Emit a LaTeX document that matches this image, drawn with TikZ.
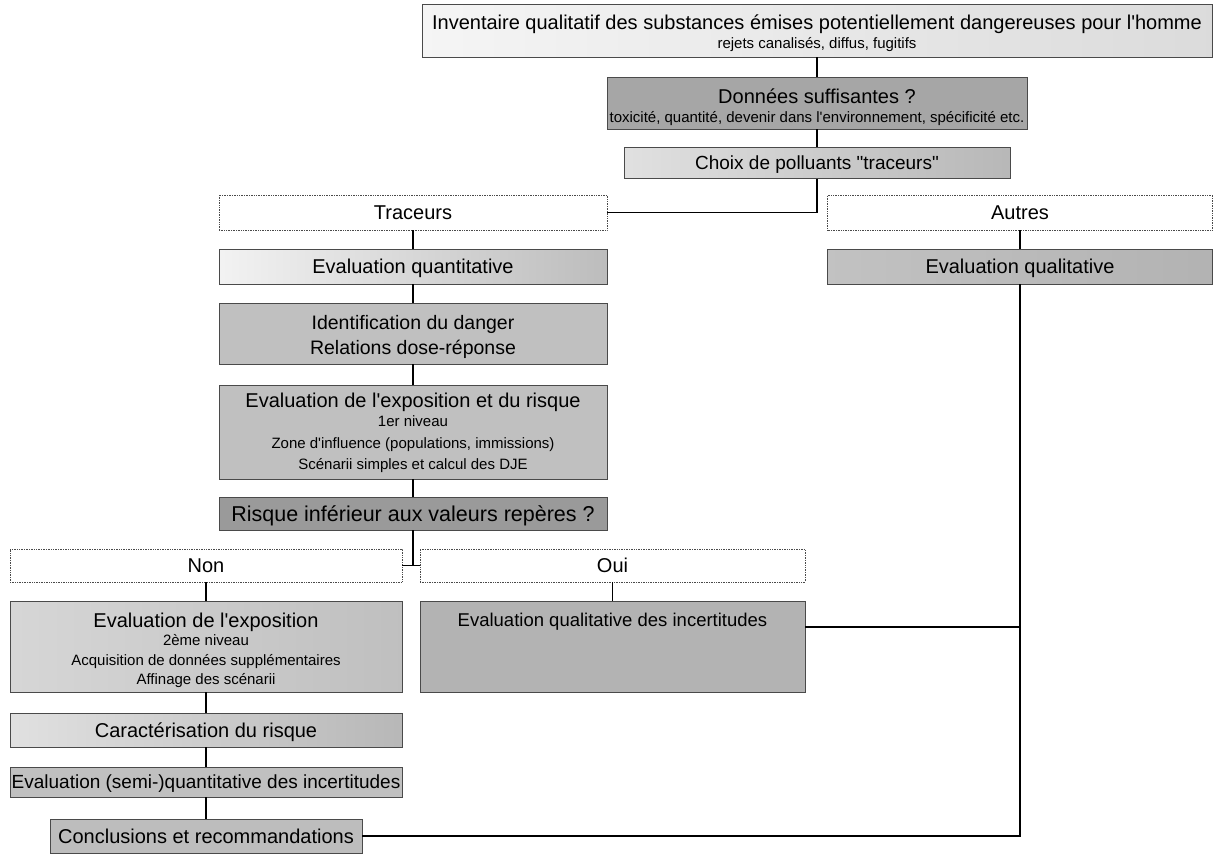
\documentclass[tikz,border=0pt]{standalone}
\usepackage{fontspec}
\setmainfont{Liberation Sans}[Ligatures=TeXOff]
\newcommand{\fsz}[1]{\fontsize{#1}{#1}\selectfont}
\definecolor{cdark}{HTML}{A6A6A6}
\definecolor{crisk}{HTML}{9A9A9A}
\definecolor{cmid}{HTML}{C0C0C0}
\definecolor{cmid2}{HTML}{B3B3B3}
\definecolor{cline}{HTML}{4A4A4A}
\tikzset{
  bx/.style={draw=cline, line width=0.7pt, inner sep=0pt, align=center},
  wbox/.style={bx, fill=white, densely dotted},
  gbox/.style={bx, fill=#1},
  gshade/.style 2 args={bx, left color=#1, right color=#2},
  tx/.style={inner sep=0pt, font=\fsz{#1}, text height=#1*0.72pt, text depth=0pt},
  conn/.style={draw=black, line width=1.1pt},
}
\begin{document}
\begin{tikzpicture}[x=1pt,y=-1pt]
\useasboundingbox (0,0) rectangle (1215,855);
% ---- boxes ----
\node[gshade={black!4}{black!14}, minimum width=790pt, minimum height=53pt] (b1) at (817,30.5) {};
\node[tx=20] (b1t) at (817,22) {Inventaire qualitatif des substances émises potentiellement dangereuses pour l'homme};
\node[tx=15] (b1s) at (817,43) {rejets canalisés, diffus, fugitifs};

\node[gbox=cdark, minimum width=420pt, minimum height=52pt] (b2) at (817,103) {};
\node[tx=20] (b2t) at (817,96) {Données suffisantes ?};
\node[tx=15] (b2s) at (817,117) {toxicité, quantité, devenir dans l'environnement, spécificité etc.};

\node[gshade={black!12}{black!28}, minimum width=386pt, minimum height=31pt, tx=19] (choix) at (817,163) {Choix de polluants "traceurs"};

\node[wbox, minimum width=388pt, minimum height=35pt, tx=20] (trac) at (413,212.5) {Traceurs};
\node[wbox, minimum width=385pt, minimum height=35pt, tx=20] (autres) at (1020,212.5) {Autres};

\node[gshade={black!5}{black!26}, minimum width=388pt, minimum height=35pt, tx=20] (evq) at (413,266.5) {Evaluation quantitative};
\node[gshade={black!24}{black!30}, minimum width=385pt, minimum height=35pt, tx=20] (evql) at (1020,266.5) {Evaluation qualitative};

\node[gbox=cmid, minimum width=388pt, minimum height=61pt] (ident) at (413,333.5) {};
\node[tx=19.5] (identa) at (413,322) {Identification du danger};
\node[tx=19.5] (identb) at (413,347) {Relations dose-réponse};

\node[gbox=cmid, minimum width=388pt, minimum height=94pt] (expo1) at (413,432) {};
\node[tx=20] (expo1a) at (413,400) {Evaluation de l'exposition et du risque};
\node[tx=15] (expo1b) at (413,421) {1er niveau};
\node[tx=15] (expo1c) at (413,443) {Zone d'influence (populations, immissions)};
\node[tx=15] (expo1d) at (413,464) {Scénarii simples et calcul des DJE};

\node[gbox=crisk, minimum width=388pt, minimum height=33pt, tx=21.5] (risque) at (413,513.5) {Risque inférieur aux valeurs repères ?};

\node[wbox, minimum width=392pt, minimum height=33pt, tx=20] (non) at (206,565.5) {Non};
\node[wbox, minimum width=385pt, minimum height=33pt, tx=20] (oui) at (612.5,565.5) {Oui};

\node[gshade={black!16}{black!25}, minimum width=392pt, minimum height=91pt] (expo2) at (206,646.5) {};
\node[tx=20] (expo2a) at (206,620) {Evaluation de l'exposition};
\node[tx=15] (expo2b) at (206,640) {2ème niveau};
\node[tx=15] (expo2c) at (206,660) {Acquisition de données supplémentaires};
\node[tx=15] (expo2d) at (206,679) {Affinage des scénarii};

\node[gbox=cmid2, minimum width=385pt, minimum height=91pt] (incq) at (612.5,646.5) {};
\node[tx=18.5] (incqt) at (612.5,620) {Evaluation qualitative des incertitudes};

\node[gshade={black!12}{black!28}, minimum width=392pt, minimum height=34pt, tx=20] (caract) at (206,730) {Caractérisation du risque};
\node[gbox=cmid, minimum width=392pt, minimum height=30pt, tx=19] (semi) at (206,782) {Evaluation (semi-)quantitative des incertitudes};
\node[gbox=black!26, minimum width=312pt, minimum height=34pt, tx=20] (concl) at (206,836) {Conclusions et recommandations};

% ---- junction points ----
\coordinate (j1) at (choix.south |- trac.east);
\coordinate (j2) at (risque.south |- non.east);
\coordinate (ij) at (805,627);
\coordinate (rj) at (evql.south |- ij);
\coordinate (rb) at (evql.south |- concl.east);

% ---- connectors ----
\draw[conn] (b1.south) -- (b2.north);
\draw[conn] (b2.south) -- (choix.north);
\draw[conn] (choix.south) -- (j1) -- (trac.east);
\draw[conn] (trac.south) -- (evq.north);
\draw[conn] (evq.south) -- (ident.north);
\draw[conn] (ident.south) -- (expo1.north);
\draw[conn] (expo1.south) -- (risque.north);
\draw[conn] (risque.south) -- (j2);
\draw[conn] (non.east) -- (oui.west);
\draw[conn] (non.south) -- (expo2.north);
\draw[conn] (expo2.south) -- (caract.north);
\draw[conn] (caract.south) -- (semi.north);
\draw[conn] (semi.south) -- (concl.north);
\draw[conn] (oui.south) -- (incq.north);
\draw[conn] (autres.south) -- (evql.north);
\draw[conn] (evql.south) -- (rb) -- (concl.east);
\draw[conn] (ij) -- (rj);
\end{tikzpicture}
\end{document}
